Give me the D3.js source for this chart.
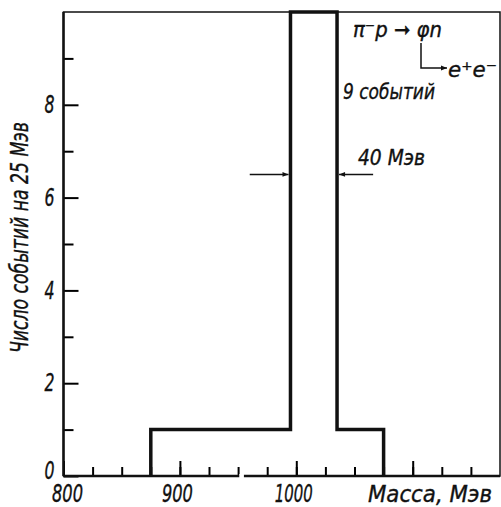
<!DOCTYPE html>
<html>
<head>
<meta charset="utf-8">
<script src="https://cdn.jsdelivr.net/npm/d3@7"></script>
<style>
  body { margin: 0; background: #fff; }
  svg text { font-family: "DejaVu Sans Condensed", "DejaVu Sans", sans-serif; font-style: italic; fill: #111; stroke: #111; stroke-width: 0.35px; }
</style>
</head>
<body>
<svg width="501" height="507"></svg>
<script>
// histogram bins (Мэв) and counts per bin
var binStart = [875, 995, 1035],
    binEnd   = [995, 1035, 1075],
    counts   = [1, 10, 1];

var xTickLabels = [800, 900, 1000],
    xMajorTicks = [800, 900, 1000, 1100],
    yTickLabels = [0, 2, 4, 6, 8];

var svg = d3.select("svg"),
    margin = {top: 12, right: 1, bottom: 31, left: 63.5},
    width = +svg.attr("width") - margin.left - margin.right,
    height = +svg.attr("height") - margin.top - margin.bottom;

var x = d3.scaleLinear().domain([800, 1175]).range([0, width]),
    y = d3.scaleLinear().domain([0, 10]).range([height, 0]);

var g = svg.append("g")
    .attr("transform", "translate(" + margin.left + "," + margin.top + ")");

// minor ticks, every 25 Мэв / 1 event
g.append("g")
    .attr("transform", "translate(0," + height + ")")
    .call(d3.axisBottom(x).tickValues(d3.range(825, 1175, 25)).tickSize(-9).tickFormat(""))
    .call(function(a) { a.select(".domain").remove(); a.selectAll("line").attr("stroke-width", 2); });

g.append("g")
    .call(d3.axisLeft(y).tickValues([1, 3, 5, 7, 9]).tickSize(-10).tickFormat(""))
    .call(function(a) { a.select(".domain").remove(); a.selectAll("line").attr("stroke-width", 2); });

// major ticks with labels
var xAxis = g.append("g")
    .attr("transform", "translate(0," + height + ")")
    .call(d3.axisBottom(x).tickValues(xMajorTicks).tickSize(-15)
      .tickFormat(function(d) { return xTickLabels.indexOf(d) >= 0 ? d : ""; }));
xAxis.select(".domain").remove();
xAxis.selectAll("line").attr("stroke-width", 2);
xAxis.selectAll("text")
    .attr("y", 26).attr("dy", 0).attr("font-size", 24)
    .attr("dx", function(d) { return d === 800 ? 3.5 : -3; })
    .attr("textLength", function(d) { return d >= 1000 ? 38 : 31; })
    .attr("lengthAdjust", "spacingAndGlyphs");

var yAxis = g.append("g")
    .call(d3.axisLeft(y).tickValues(yTickLabels).tickSize(-15));
yAxis.select(".domain").remove();
yAxis.selectAll("line").attr("stroke-width", 2);
yAxis.selectAll("text").attr("x", -9).attr("font-size", 24)
    .attr("dy", function(d) { return d === 0 ? "0.1em" : "0.32em"; })
    .attr("textLength", 10).attr("lengthAdjust", "spacingAndGlyphs");

// frame
g.append("rect")
    .attr("width", width).attr("height", height)
    .attr("fill", "none").attr("stroke", "#111").attr("stroke-width", 1.5);
g.append("line").attr("x1", 0).attr("x2", 0).attr("y1", 0).attr("y2", height)
    .attr("stroke", "#111").attr("stroke-width", 2.5);
g.append("line").attr("x1", 0).attr("x2", width).attr("y1", height).attr("y2", height)
    .attr("stroke", "#111").attr("stroke-width", 2.5);
// small break in the mass axis
g.append("line").attr("x1", x(951)).attr("x2", x(955)).attr("y1", height).attr("y2", height)
    .attr("stroke", "#fff").attr("stroke-width", 4);

// histogram outline
var pts = [[binStart[0], 0]];
binStart.forEach(function(s, i) {
  pts.push([s, counts[i]]);
  pts.push([binEnd[i], counts[i]]);
});
pts.push([binEnd[binEnd.length - 1], 0]);

g.append("path")
    .datum(pts)
    .attr("fill", "none")
    .attr("stroke", "#111")
    .attr("stroke-width", 3.5)
    .attr("stroke-linejoin", "miter")
    .attr("d", d3.line().x(function(d) { return x(d[0]); }).y(function(d) { return y(d[1]); }));

// width arrows
var defs = svg.append("defs");
defs.append("marker")
    .attr("id", "ah").attr("viewBox", "0 0 10 10")
    .attr("refX", 10).attr("refY", 5)
    .attr("markerWidth", 12).attr("markerHeight", 6)
    .attr("markerUnits", "userSpaceOnUse")
    .attr("orient", "auto")
  .append("path").attr("d", "M0,1 L10,5 L0,9 Z").attr("fill", "#111");

var arrowY = y(6.5);
g.append("line")
    .attr("x1", x(960)).attr("x2", x(binStart[1]) - 2)
    .attr("y1", arrowY).attr("y2", arrowY)
    .attr("stroke", "#111").attr("stroke-width", 1.5).attr("marker-end", "url(#ah)");
g.append("line")
    .attr("x1", x(1066)).attr("x2", x(binEnd[1]) + 2)
    .attr("y1", arrowY).attr("y2", arrowY)
    .attr("stroke", "#111").attr("stroke-width", 1.5).attr("marker-end", "url(#ah)");

svg.append("text")
    .attr("x", 358).attr("y", 165)
    .attr("font-size", 21)
    .attr("textLength", 67).attr("lengthAdjust", "spacingAndGlyphs")
    .text("40 Мэв");

// reaction label
svg.append("text")
    .attr("x", 353).attr("y", 37)
    .attr("font-size", 21)
    .attr("textLength", 89).attr("lengthAdjust", "spacingAndGlyphs")
    .text("π⁻p ➞ φn");
svg.append("path")
    .attr("d", "M421,43 V68 H447")
    .attr("fill", "none").attr("stroke", "#111").attr("stroke-width", 1.5)
    .attr("marker-end", "url(#ah)");
svg.append("text")
    .attr("x", 448).attr("y", 77)
    .attr("font-size", 21)
    .attr("textLength", 49).attr("lengthAdjust", "spacingAndGlyphs")
    .text("e⁺e⁻");
svg.append("text")
    .attr("x", 343).attr("y", 99)
    .attr("font-size", 22)
    .attr("textLength", 92).attr("lengthAdjust", "spacingAndGlyphs")
    .text("9 событий");

// axis titles
svg.append("text")
    .attr("x", 368).attr("y", 502)
    .attr("font-size", 23)
    .attr("textLength", 124).attr("lengthAdjust", "spacingAndGlyphs")
    .text("Масса, Мэв");

svg.append("text")
    .attr("transform", "translate(28,237.5) rotate(-90)")
    .attr("text-anchor", "middle")
    .attr("font-size", 24)
    .attr("textLength", 231).attr("lengthAdjust", "spacingAndGlyphs")
    .text("Число событий на 25 Мэв");
</script>
</body>
</html>
